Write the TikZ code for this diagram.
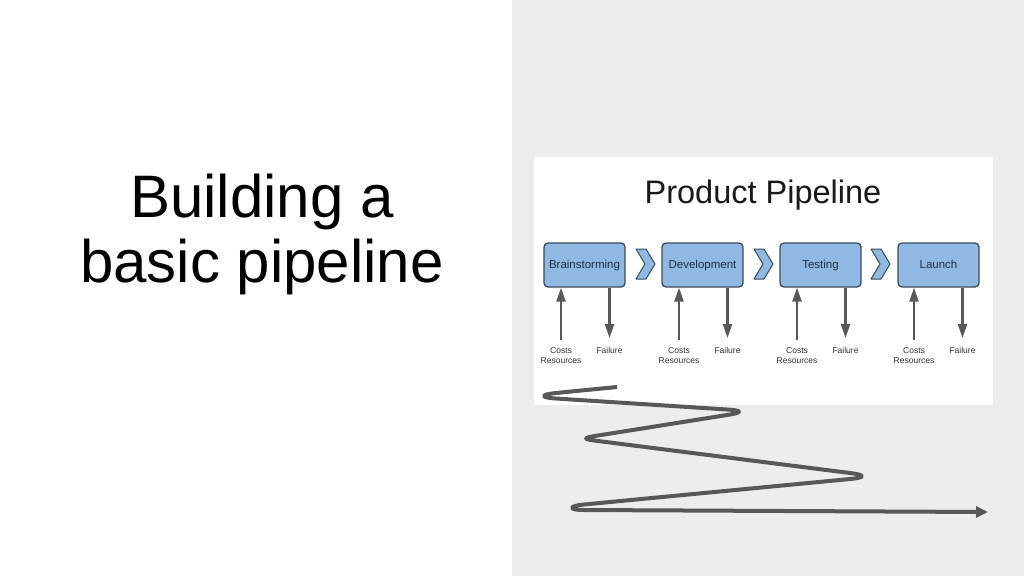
\documentclass[tikz,border=0pt]{standalone}
\usepackage{fontspec}
\setmainfont{Liberation Sans}
\usetikzlibrary{positioning, arrows.meta}

\definecolor{panelgray}{HTML}{EDEDED}
\definecolor{stagefill}{HTML}{8FB9E3}
\definecolor{stageline}{HTML}{3B4A58}
\definecolor{arrowgray}{HTML}{585858}
\definecolor{stagetext}{HTML}{1E2F42}

\tikzset{
  stage/.style={draw=stageline, fill=stagefill, line width=1.3pt, rounded corners=4pt,
    minimum width=81pt, minimum height=44pt, inner sep=0pt, text=stagetext,
    text height=8.5pt, text depth=2.5pt, font=\fontsize{11.5}{13}\selectfont},
  chev/.style={draw=stageline, fill=stagefill, line width=1pt, line join=round},
  flow/.style={draw=arrowgray, line width=2.3pt, -{Triangle[length=14pt,width=9pt]}},
  note/.style={anchor=north, inner sep=3pt, align=center, text=black!80,
    font=\fontsize{8.5}{10.5}\selectfont},
  wave/.style={draw=arrowgray, line width=4pt, line join=round,
    -{Triangle[length=12pt,width=11pt]}}
}

\begin{document}
\begin{tikzpicture}[x=1pt, y=-1pt]
  %page and grey panel on the right
  \fill[white] (0,0) rectangle (1024,576);
  \fill[panelgray] (512,0) rectangle (1024,576);
  \useasboundingbox (0,0) rectangle (1024,576);

  %slide title
  \node[align=center, font=\fontsize{60}{65}\selectfont] (title) at (262,234) {Building a\\basic pipeline};

  %white picture of the pipeline
  \fill[white] (534,157) rectangle (993,405);
  \node[anchor=base, font=\fontsize{32.5}{38}\selectfont, text=black!90] (head) at (763,203) {Product Pipeline};

  %the four stages
  \node[stage] (brain) at (584.5,265) {Brainstorming};
  \node[stage] (devel) at (702.5,265) {Development};
  \node[stage] (test) at (820.5,265) {Testing};
  \node[stage] (launch) at (938.5,265) {Launch};

  %chevrons between the stages
  \draw[chev, shift={(645,264)}] (-9,-15) -- (1,-15) -- (10,0) -- (1,15) -- (-9,15) -- (0,0) -- cycle;
  \draw[chev, shift={(763,264)}] (-9,-15) -- (1,-15) -- (10,0) -- (1,15) -- (-9,15) -- (0,0) -- cycle;
  \draw[chev, shift={(880,264)}] (-9,-15) -- (1,-15) -- (10,0) -- (1,15) -- (-9,15) -- (0,0) -- cycle;

  %what goes in and what comes out
  \node[note] (cost1) at (561,344) {Costs\\Resources};
  \node[note] (fail1) at (609.5,344) {Failure};
  \node[note] (cost2) at (679,344) {Costs\\Resources};
  \node[note] (fail2) at (727.5,344) {Failure};
  \node[note] (cost3) at (797,344) {Costs\\Resources};
  \node[note] (fail3) at (845.5,344) {Failure};
  \node[note] (cost4) at (914,344) {Costs\\Resources};
  \node[note] (fail4) at (962.5,344) {Failure};

  \draw[flow, shorten <=4pt] (cost1) -- (brain.south -| cost1);
  \draw[flow, shorten >=6pt] (brain.south -| fail1) -- (fail1);
  \draw[flow, shorten <=4pt] (cost2) -- (devel.south -| cost2);
  \draw[flow, shorten >=6pt] (devel.south -| fail2) -- (fail2);
  \draw[flow, shorten <=4pt] (cost3) -- (test.south -| cost3);
  \draw[flow, shorten >=6pt] (test.south -| fail3) -- (fail3);
  \draw[flow, shorten <=4pt] (cost4) -- (launch.south -| cost4);
  \draw[flow, shorten >=6pt] (launch.south -| fail4) -- (fail4);

  %winding line under the picture, hairpin at each turn
  \draw[wave] (617,387) -- (556,393) .. controls (540.1,394.6) and (540,397.5) .. (556,398.5)
    -- (727,409.5) .. controls (743,410.5) and (742.8,412.5) .. (727,415)
    -- (598,435.5) .. controls (582.2,438) and (582.1,439) .. (598,441)
    -- (850,473) .. controls (865.9,475) and (865.9,477.5) .. (850,479)
    -- (584,504.5) .. controls (568.1,506) and (568,510) .. (584,510)
    -- (988,512);
\end{tikzpicture}
\end{document}
